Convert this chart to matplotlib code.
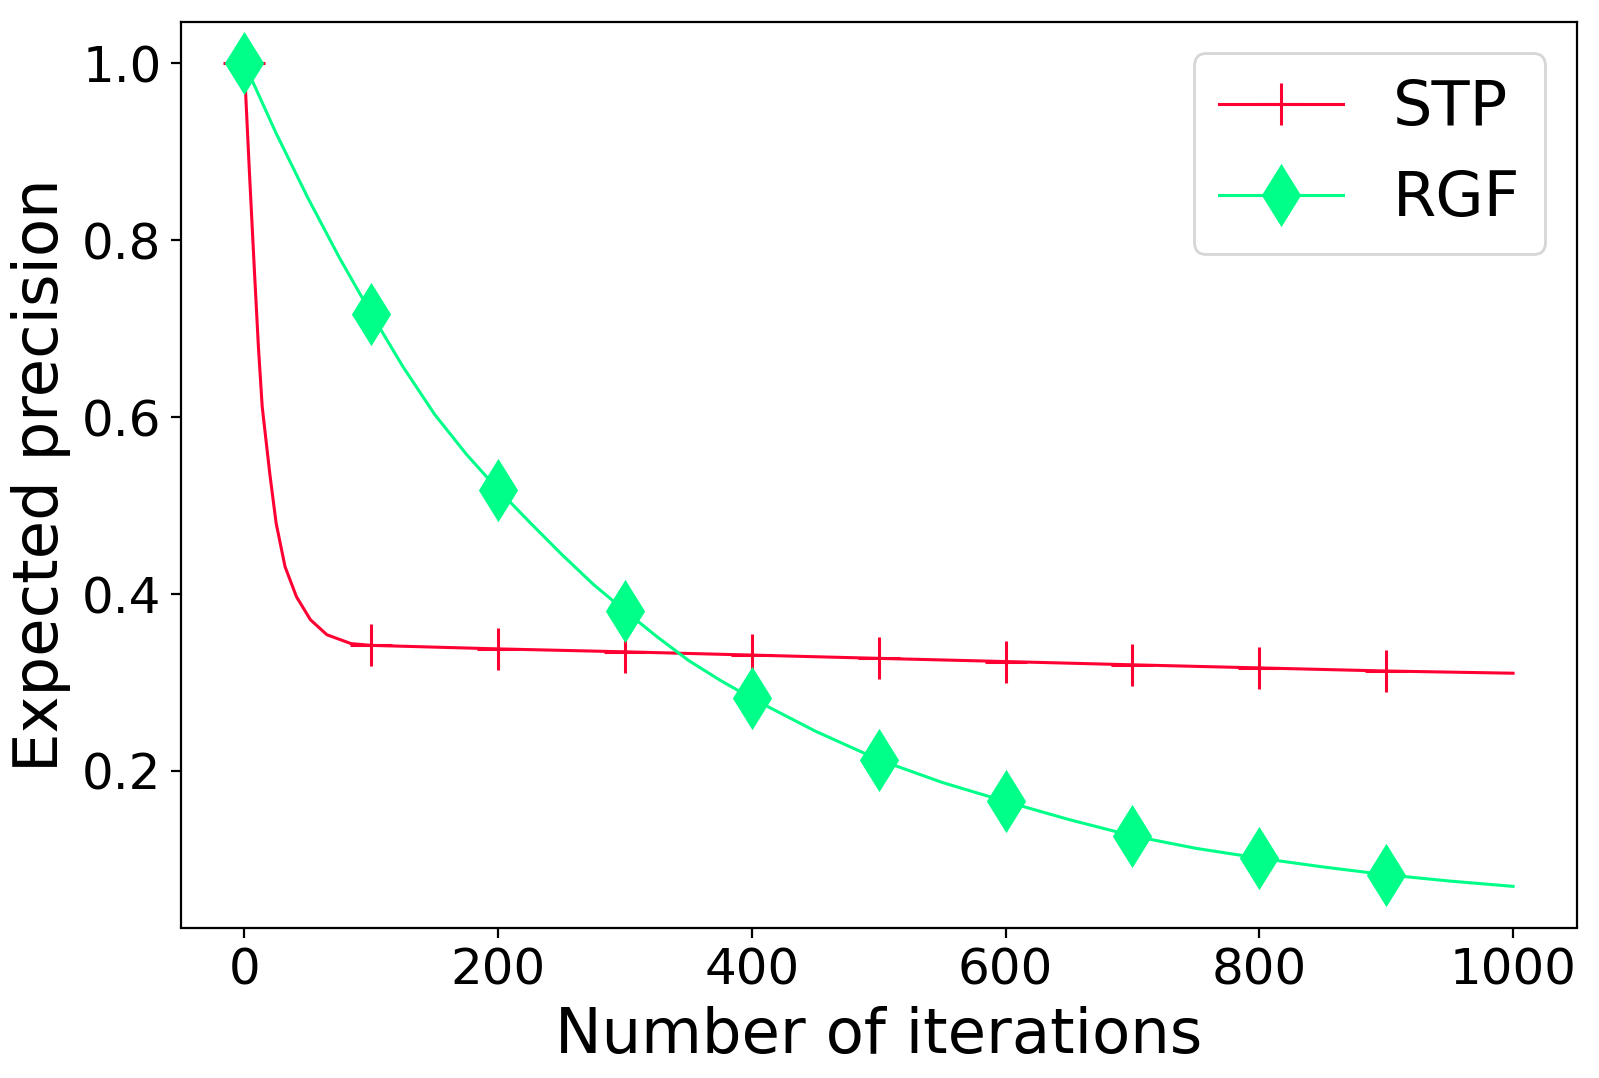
import numpy as np
import matplotlib
matplotlib.use('Agg')
import matplotlib.pyplot as plt

# STP curve
stp_x = [0, 1, 4, 8, 11, 14, 20, 25, 32, 41, 52, 65, 84, 100,
         200, 300, 400, 500, 600, 700, 800, 900, 1000]
stp_y = [1.0, 0.965, 0.875, 0.762, 0.68, 0.612, 0.536, 0.48, 0.431, 0.397,
         0.371, 0.354, 0.344, 0.342,
         0.338, 0.3347, 0.331, 0.3273, 0.3237, 0.320, 0.3165, 0.313, 0.3105]

# RGF curve
rgf_x = [0, 25, 50, 75, 100, 125, 150, 175, 200, 225, 250, 275, 300, 325,
         350, 375, 400, 450, 500, 550, 600, 650, 700, 750, 800, 850, 900,
         950, 1000]
rgf_y = [1.0, 0.921, 0.848, 0.780, 0.717, 0.657, 0.603, 0.558, 0.518, 0.481,
         0.445, 0.411, 0.381, 0.352, 0.325, 0.3025, 0.2821, 0.245, 0.2127,
         0.187, 0.1655, 0.145, 0.1266, 0.1125, 0.1014, 0.0915, 0.0826,
         0.0755, 0.0695]

mark_x = [0, 100, 200, 300, 400, 500, 600, 700, 800, 900]

stp_every = [i for i, x in enumerate(stp_x) if x in mark_x]
rgf_every = [i for i, x in enumerate(rgf_x) if x in mark_x]

fig = plt.figure(figsize=(1599/200, 1078/200), dpi=200)
ax = fig.add_axes([181/1599, 1-927.5/1078, (1576.5-181)/1599, (927.5-22.3)/1078])

ax.plot(stp_x, stp_y, color='#ff0033', lw=1.1, marker='+', ms=15, mew=1.1,
        markevery=stp_every, label='STP')
ax.plot(rgf_x, rgf_y, color='#00ff88', lw=1.1, marker='d', ms=15,
        markevery=rgf_every, label='RGF')

ax.set_xlabel('Number of iterations', fontsize=22.5)
ax.set_ylabel('Expected precision', fontsize=22.5)
ax.tick_params(labelsize=18)
ax.set_yticks([0.2, 0.4, 0.6, 0.8, 1.0])
ax.legend(fontsize=22.4, loc='upper right')

plt.savefig('out.png', dpi=200)
